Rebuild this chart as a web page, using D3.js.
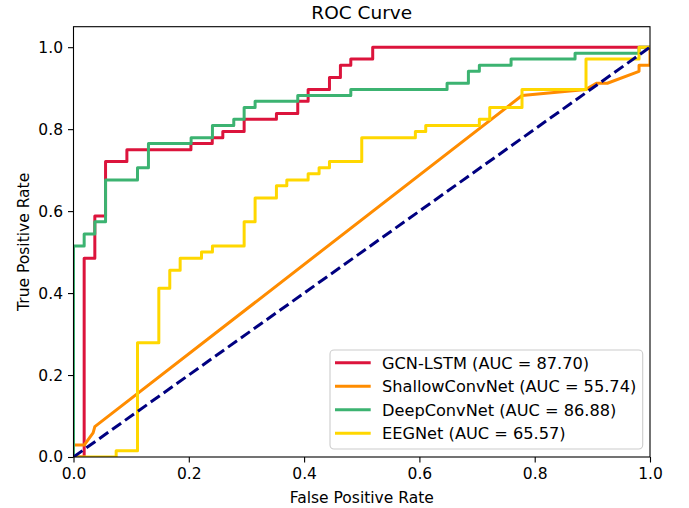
<!DOCTYPE html>
<html><head><meta charset="utf-8">
<script src="https://cdn.jsdelivr.net/npm/d3@7/dist/d3.min.js"></script>
<style>
body{margin:0;background:#fff}
svg{display:block}
text{font-family:"DejaVu Sans",sans-serif;fill:#000}
</style>
</head><body>
<svg id="chart" width="689" height="508"></svg>
<script>
// ---- data (fpr, tpr) ----
const seriesNames = ["GCN-LSTM (AUC = 87.70)", "ShallowConvNet (AUC = 55.74)", "DeepConvNet (AUC = 86.88)", "EEGNet (AUC = 65.57)"];
const seriesColors = ["#DC143C", "#FF8C00", "#3CB371", "#FFD700"];

const gcnLstm = [[0,0],[0.0185,0],[0.0185,0.485],[0.037,0.485],[0.037,0.588],[0.0556,0.588],[0.0556,0.721],[0.0926,0.721],[0.0926,0.75],[0.2037,0.75],[0.2037,0.765],[0.2407,0.765],[0.2407,0.779],[0.259,0.779],[0.259,0.794],[0.296,0.794],[0.296,0.824],[0.352,0.824],[0.352,0.838],[0.389,0.838],[0.389,0.868],[0.407,0.868],[0.407,0.897],[0.444,0.897],[0.444,0.926],[0.463,0.926],[0.463,0.956],[0.481,0.956],[0.481,0.971],[0.519,0.971],[0.519,1],[1,1]];

const shallowConvNet = [[0,0],[0,0.029],[0.0185,0.029],[0.034,0.059],[0.037,0.074],[0.778,0.882],[0.889,0.897],[0.907,0.912],[0.926,0.912],[0.981,0.941],[0.981,0.956],[1,0.956],[1,1]];

const deepConvNet = [[0,0],[0,0.515],[0.0185,0.515],[0.0185,0.544],[0.037,0.544],[0.037,0.574],[0.0556,0.574],[0.0556,0.676],[0.111,0.676],[0.111,0.706],[0.13,0.706],[0.13,0.765],[0.204,0.765],[0.204,0.779],[0.241,0.779],[0.241,0.809],[0.278,0.809],[0.278,0.824],[0.296,0.824],[0.296,0.853],[0.315,0.853],[0.315,0.868],[0.389,0.868],[0.389,0.882],[0.481,0.882],[0.481,0.897],[0.648,0.897],[0.648,0.912],[0.685,0.912],[0.685,0.941],[0.704,0.941],[0.704,0.956],[0.759,0.956],[0.759,0.971],[0.87,0.971],[0.87,0.985],[0.981,0.985],[0.981,1],[1,1]];

const eegNet = [[0,0],[0.074,0],[0.074,0.015],[0.111,0.015],[0.111,0.279],[0.148,0.279],[0.148,0.412],[0.167,0.412],[0.167,0.456],[0.185,0.456],[0.185,0.485],[0.222,0.485],[0.222,0.5],[0.241,0.5],[0.241,0.515],[0.296,0.515],[0.296,0.574],[0.315,0.574],[0.315,0.632],[0.352,0.632],[0.352,0.662],[0.37,0.662],[0.37,0.676],[0.407,0.676],[0.407,0.691],[0.426,0.691],[0.426,0.706],[0.444,0.706],[0.444,0.721],[0.5,0.721],[0.5,0.779],[0.593,0.779],[0.593,0.794],[0.611,0.794],[0.611,0.809],[0.704,0.809],[0.704,0.824],[0.722,0.824],[0.722,0.853],[0.778,0.853],[0.778,0.897],[0.889,0.897],[0.889,0.971],[0.981,0.971],[0.981,1],[1,1]];

const chanceLine = [[0,0],[1,1]];
const xTicks = [0, 0.2, 0.4, 0.6, 0.8, 1.0];
const yTicks = [0, 0.2, 0.4, 0.6, 0.8, 1.0];
const titleText = "ROC Curve";
const xLabelText = "False Positive Rate";
const yLabelText = "True Positive Rate";

// ---- layout ----
const L = 73.5, R = 650, T = 26.7, B = 457;
const fs = 15.5;
const legendFs = 16.2;
const svg = d3.select("#chart");
const x = d3.scaleLinear().domain([0, 1]).range([L, R]);
const y = d3.scaleLinear().domain([0, 1.05]).range([B, T]);

svg.append("defs").append("clipPath").attr("id", "clip")
  .append("rect").attr("x", L).attr("y", T).attr("width", R - L).attr("height", B - T);

const line = d3.line().x(d => x(d[0])).y(d => y(d[1]));
const g = svg.append("g").attr("clip-path", "url(#clip)");
const allSeries = [gcnLstm, shallowConvNet, deepConvNet, eegNet];
allSeries.forEach((s, i) => {
  g.append("path").datum(s).attr("d", line)
    .attr("fill", "none").attr("stroke", seriesColors[i])
    .attr("stroke-width", 3).attr("stroke-linejoin", "round").attr("stroke-linecap", "butt");
});
g.append("path").datum(chanceLine).attr("d", line)
  .attr("fill", "none").attr("stroke", "#000080").attr("stroke-width", 3)
  .attr("stroke-dasharray", "11,4.8");

// axes
const xAxis = d3.axisBottom(x).tickValues(xTicks).tickFormat(d3.format(".1f")).tickSize(5.5).tickPadding(5);
const yAxis = d3.axisLeft(y).tickValues(yTicks).tickFormat(d3.format(".1f")).tickSize(5.5).tickPadding(5);
const gx = svg.append("g").attr("transform", `translate(0,${B})`).call(xAxis);
const gy = svg.append("g").attr("transform", `translate(${L},0)`).call(yAxis);
[gx, gy].forEach(a => {
  a.select(".domain").remove();
  a.selectAll("line").attr("stroke", "#000").attr("stroke-width", 1.1);
  a.selectAll("text").attr("font-size", fs).attr("font-family", "DejaVu Sans").attr("fill", "#000");
});
// spines
svg.append("rect").attr("x", L).attr("y", T).attr("width", R - L).attr("height", B - T)
  .attr("fill", "none").attr("stroke", "#000").attr("stroke-width", 1.1);

// labels
svg.append("text").attr("x", (L + R) / 2).attr("y", 19).attr("text-anchor", "middle")
  .attr("font-size", 18.5).text(titleText);
svg.append("text").attr("x", (L + R) / 2).attr("y", 502.5).attr("text-anchor", "middle")
  .attr("font-size", fs).text(xLabelText);
svg.append("text").attr("transform", `translate(29,${(T + B) / 2}) rotate(-90)`)
  .attr("text-anchor", "middle").attr("font-size", fs).text(yLabelText);

// legend
const lg = svg.append("g");
lg.append("rect").attr("x", 330).attr("y", 350).attr("width", 312.7).attr("height", 99)
  .attr("rx", 4).attr("fill", "#fff").attr("fill-opacity", 0.8)
  .attr("stroke", "#cccccc").attr("stroke-width", 1.1);
const rowY = d3.scaleLinear().domain([0, 3]).range([362.7, 433.3]);
seriesNames.forEach((n, i) => {
  lg.append("line").attr("x1", 335).attr("x2", 370.7).attr("y1", rowY(i)).attr("y2", rowY(i))
    .attr("stroke", seriesColors[i]).attr("stroke-width", 3);
  lg.append("text").attr("x", 382).attr("y", rowY(i)).attr("dy", "0.36em")
    .attr("font-size", legendFs).text(n);
});
</script>
</body></html>
